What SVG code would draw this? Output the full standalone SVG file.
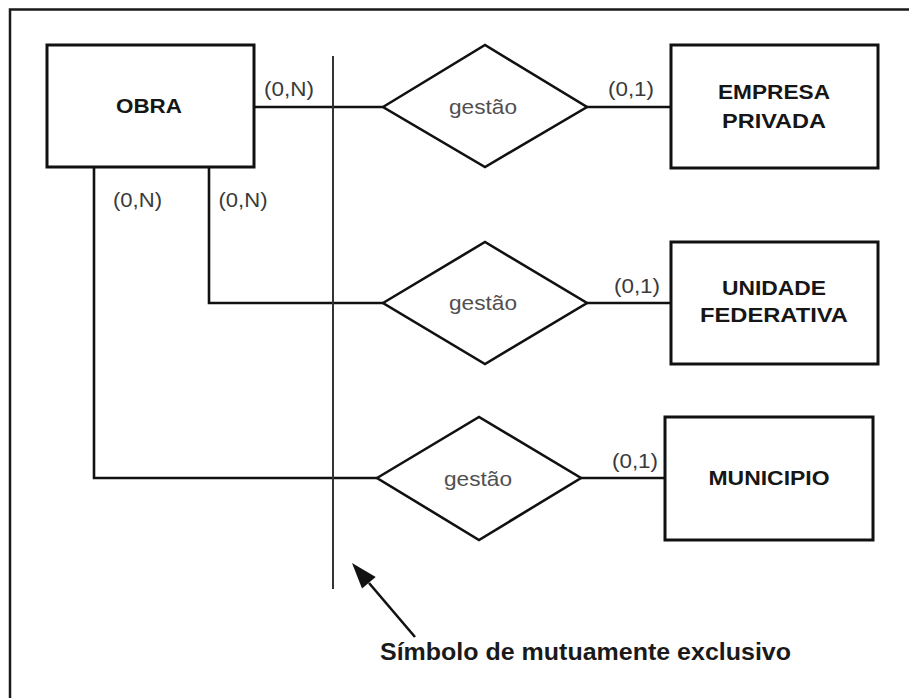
<svg xmlns="http://www.w3.org/2000/svg" width="909" height="698" viewBox="0 0 909 698">
  <style>
    .entity rect { fill: #ffffff; stroke: #111111; stroke-width: 3; }
    .rel polygon { fill: #ffffff; stroke: #111111; stroke-width: 2.6; }
    .ename { font-family: "Liberation Sans", Arial, sans-serif; font-weight: bold; font-size: 21px; fill: #161616; text-anchor: middle; }
    .rname { font-family: "Liberation Sans", Arial, sans-serif; font-size: 21px; fill: #505050; text-anchor: middle; }
    .card { font-family: "Liberation Sans", Arial, sans-serif; font-size: 21px; fill: #3a3a3a; text-anchor: middle; }
    .caption { font-family: "Liberation Sans", Arial, sans-serif; font-weight: bold; font-size: 23px; fill: #1a1a1a; }
    .conn { fill: none; stroke: #111111; stroke-width: 2.6; }
    .excl { stroke: #333333; stroke-width: 2; }
  </style>

  <rect x="0" y="0" width="909" height="698" fill="#ffffff"/>
  <!-- frame (top and left edges) -->
  <path d="M10,698 V9.5 H909" fill="none" stroke="#1a1a1a" stroke-width="2.5"/>

  <!-- connectors -->
  <g id="connectors">
    <path class="conn" d="M254,107 H383"/>
    <path class="conn" d="M587,107 H671"/>
    <path class="conn" d="M209,167 V303 H383"/>
    <path class="conn" d="M587,303 H671"/>
    <path class="conn" d="M94,167 V478 H377"/>
    <path class="conn" d="M581,478 H665"/>
    <!-- mutual exclusion bar -->
    <line class="excl" x1="333" y1="56" x2="333" y2="589"/>
    <!-- pointer to the exclusion bar -->
    <line x1="415" y1="637" x2="369" y2="583" stroke="#111111" stroke-width="2.6"/>
    <polygon points="352,563 375.7,577 362,588.6" fill="#111111"/>
    <text class="card" x="289" y="96" textLength="50" lengthAdjust="spacingAndGlyphs">(0,N)</text>
    <text class="card" x="137.5" y="207" textLength="49" lengthAdjust="spacingAndGlyphs">(0,N)</text>
    <text class="card" x="243" y="207" textLength="49" lengthAdjust="spacingAndGlyphs">(0,N)</text>
    <text class="card" x="631" y="96" textLength="46" lengthAdjust="spacingAndGlyphs">(0,1)</text>
    <text class="card" x="637" y="293" textLength="46" lengthAdjust="spacingAndGlyphs">(0,1)</text>
    <text class="card" x="635" y="468" textLength="46" lengthAdjust="spacingAndGlyphs">(0,1)</text>
  </g>

  <g id="obra" class="entity">
    <rect x="47" y="45" width="207" height="122"/>
    <text class="ename" x="149" y="113" textLength="66" lengthAdjust="spacingAndGlyphs">OBRA</text>
  </g>

  <g id="gestao-empresa" class="rel">
    <polygon points="383,107 485,45 587,107 485,167"/>
    <text class="rname" x="483" y="114" textLength="68" lengthAdjust="spacingAndGlyphs">gestão</text>
  </g>

  <g id="gestao-unidade" class="rel">
    <polygon points="383,303 485,242 587,303 485,364"/>
    <text class="rname" x="483" y="310" textLength="68" lengthAdjust="spacingAndGlyphs">gestão</text>
  </g>

  <g id="gestao-municipio" class="rel">
    <polygon points="377,478 479,417 581,478 479,540"/>
    <text class="rname" x="478" y="486" textLength="68" lengthAdjust="spacingAndGlyphs">gestão</text>
  </g>

  <g id="empresa-privada" class="entity">
    <rect x="671" y="45" width="207" height="123"/>
    <text class="ename" x="774" y="99" textLength="112" lengthAdjust="spacingAndGlyphs">EMPRESA</text>
    <text class="ename" x="774" y="128" textLength="104" lengthAdjust="spacingAndGlyphs">PRIVADA</text>
  </g>

  <g id="unidade-federativa" class="entity">
    <rect x="671" y="242" width="207" height="122"/>
    <text class="ename" x="774" y="295" textLength="104" lengthAdjust="spacingAndGlyphs">UNIDADE</text>
    <text class="ename" x="774" y="322" textLength="148" lengthAdjust="spacingAndGlyphs">FEDERATIVA</text>
  </g>

  <g id="municipio" class="entity">
    <rect x="665" y="417" width="208" height="123"/>
    <text class="ename" x="769" y="485" textLength="121" lengthAdjust="spacingAndGlyphs">MUNICIPIO</text>
  </g>

  <text class="caption" x="380" y="660" textLength="411" lengthAdjust="spacingAndGlyphs">Símbolo de mutuamente exclusivo</text>
</svg>
